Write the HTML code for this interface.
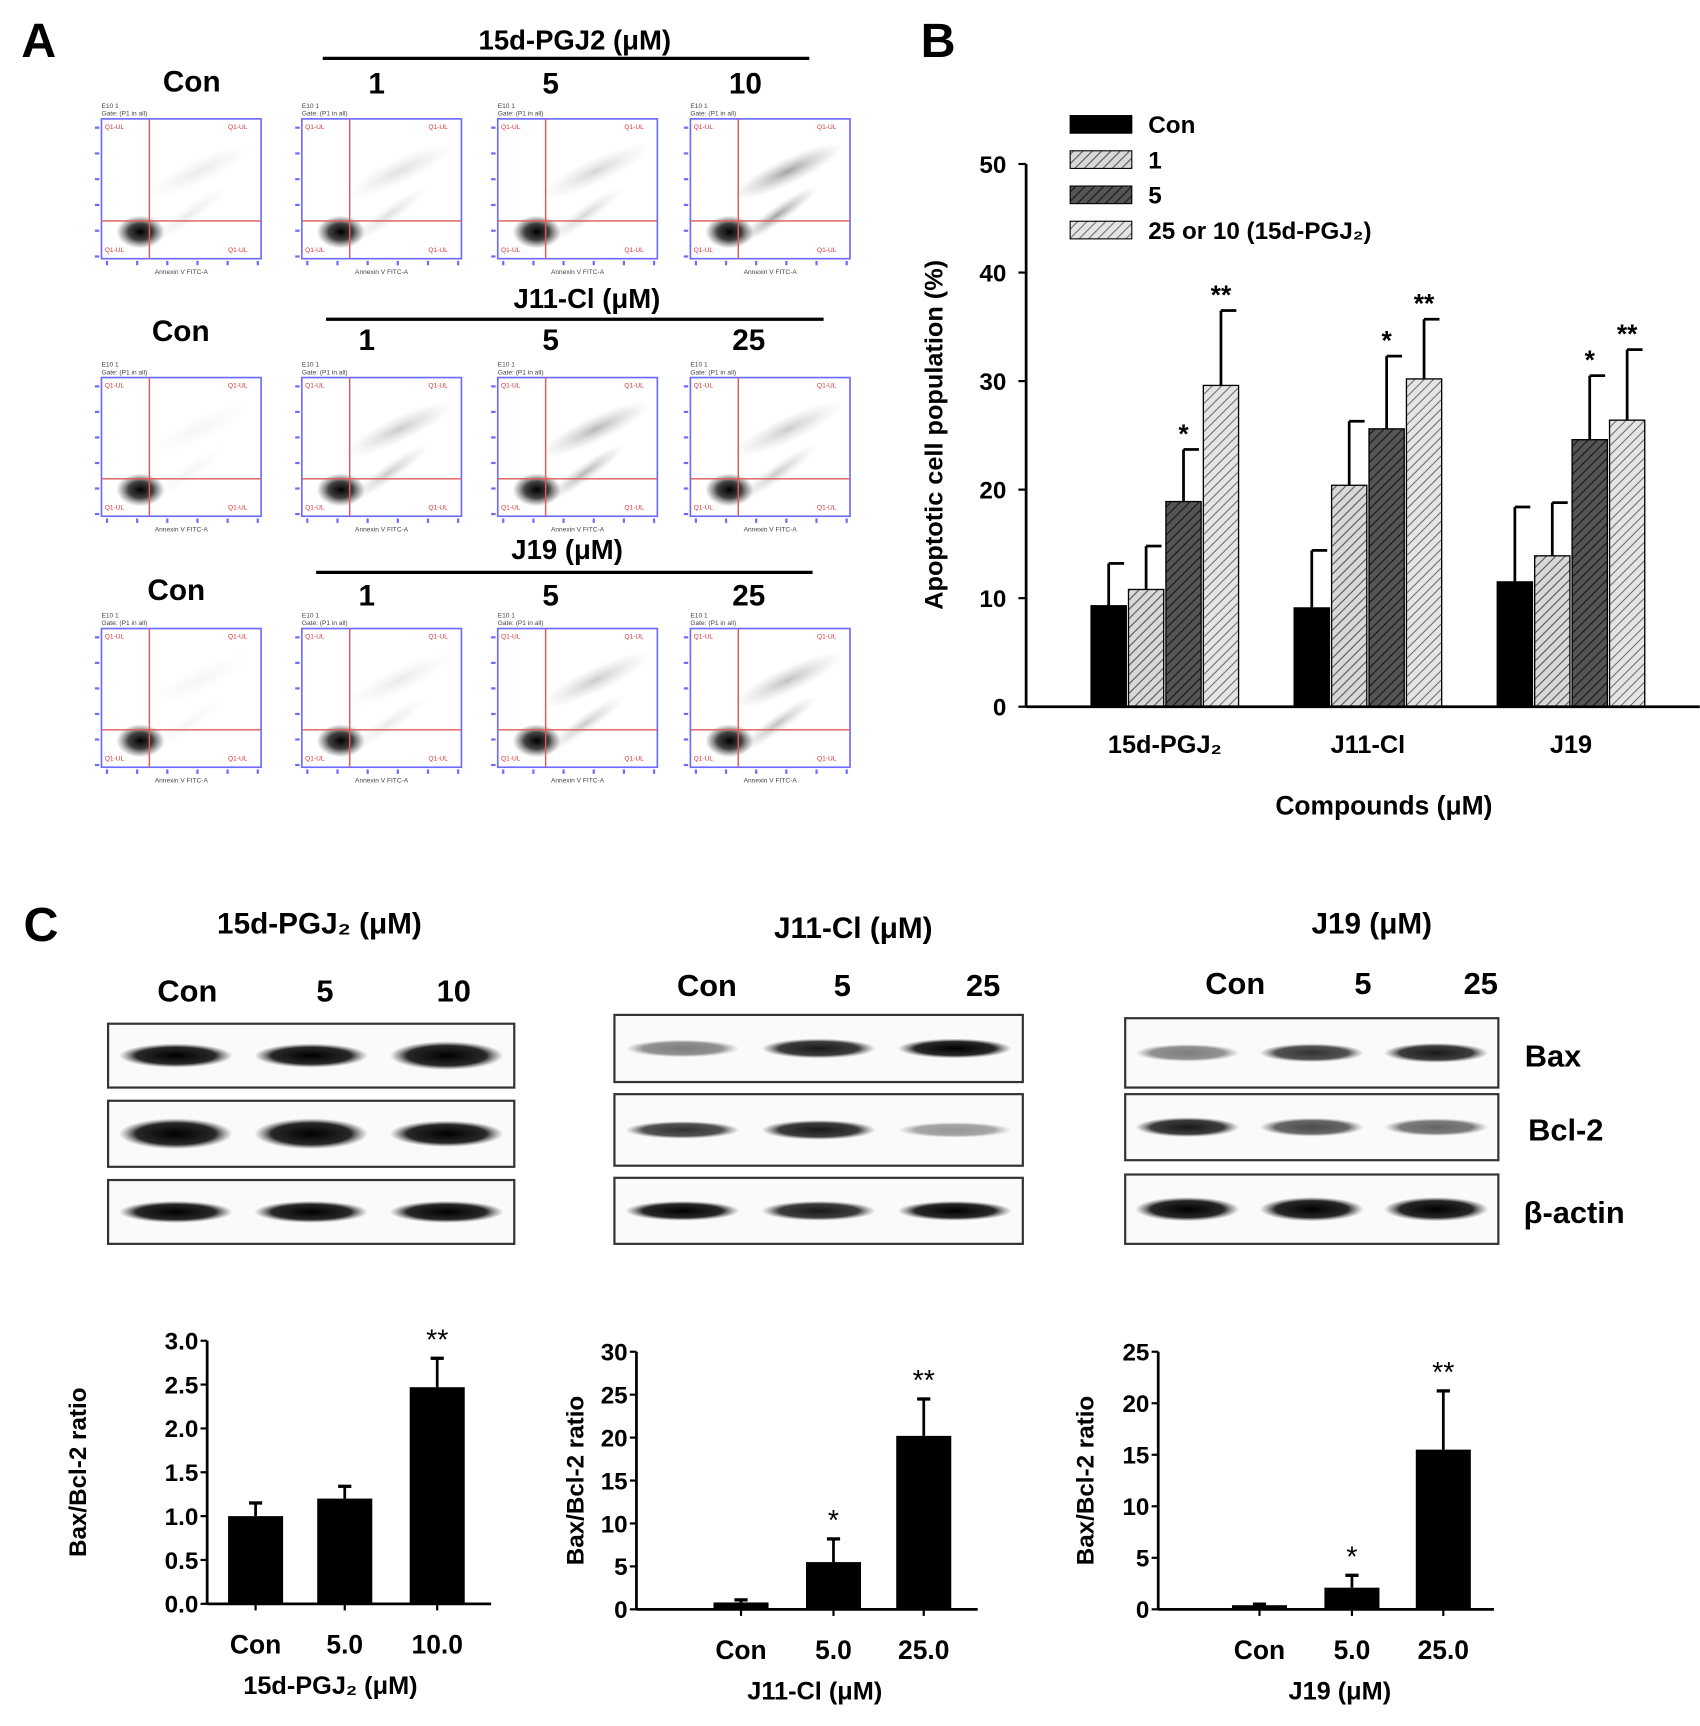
<!DOCTYPE html>
<html><head><meta charset="utf-8"><style>
html,body{margin:0;padding:0;background:#fff;}
svg{display:block;font-family:"Liberation Sans",Arial,sans-serif;font-weight:bold;}
</style></head><body>
<svg id="fig" width="1700" height="1726" viewBox="0 0 1544 1568" xmlns="http://www.w3.org/2000/svg">
<defs>
<pattern id="hatchL" patternUnits="userSpaceOnUse" width="6" height="6" patternTransform="rotate(45)"><rect width="6" height="6" fill="#d8d8d8"/><line x1="0" y1="0" x2="0" y2="6" stroke="#555" stroke-width="2"/></pattern>
<pattern id="hatchD" patternUnits="userSpaceOnUse" width="6" height="6" patternTransform="rotate(45)"><rect width="6" height="6" fill="#555"/><line x1="0" y1="0" x2="0" y2="6" stroke="#222" stroke-width="2.5"/></pattern>
<pattern id="hatchL2" patternUnits="userSpaceOnUse" width="6" height="6" patternTransform="rotate(45)"><rect width="6" height="6" fill="#e4e4e4"/><line x1="0" y1="0" x2="0" y2="6" stroke="#666" stroke-width="1.8"/></pattern>
<radialGradient id="blob"><stop offset="0" stop-color="#000" stop-opacity="1"/><stop offset="0.5" stop-color="#111" stop-opacity="0.8"/><stop offset="1" stop-color="#444" stop-opacity="0"/></radialGradient>
<radialGradient id="faint"><stop offset="0" stop-color="#555" stop-opacity="0.6"/><stop offset="1" stop-color="#999" stop-opacity="0"/></radialGradient>
<radialGradient id="band"><stop offset="0" stop-color="#000"/><stop offset="0.7" stop-color="#111" stop-opacity="0.9"/><stop offset="1" stop-color="#555" stop-opacity="0"/></radialGradient>
</defs>
<g id="panelA"></g>
<g id="panelB"></g>
<g id="panelC"></g>
</svg>
<script>
// ---- Panel B data ----
const bCategories = ["15d-PGJ\u2082", "J11-Cl", "J19"];
const bSeriesNames = ["Con", "1", "5", "25 or 10 (15d-PGJ\u2082)"];
const bCon = [9.3, 9.1, 11.5];
const bDose1 = [10.8, 20.4, 13.9];
const bDose5 = [18.9, 25.6, 24.6];
const bDoseHigh = [29.6, 30.2, 26.4];
const bErrCon = [3.9, 5.3, 6.9];
const bErr1 = [4.0, 5.9, 4.9];
const bErr5 = [4.8, 6.7, 5.9];
const bErrHigh = [6.9, 5.5, 6.5];
const bStars = [["", "", "*", "**"], ["", "", "*", "**"], ["", "", "*", "**"]];
const bTicks = [0, 10, 20, 30, 40, 50];

// ---- Panel C bar charts data ----
const cCategories = ["Con", "5.0", "10.0"];
const c1Values = [1.0, 1.2, 2.47];
const c1Err = [0.15, 0.14, 0.33];
const c1Ticks = ["0.0","0.5","1.0","1.5","2.0","2.5","3.0"];
const c1Stars = ["", "", "**"];
const c2Categories = ["Con", "5.0", "25.0"];
const c2Values = [0.8, 5.5, 20.2];
const c2Err = [0.3, 2.7, 4.3];
const c2Ticks = [0, 5, 10, 15, 20, 25, 30];
const c2Stars = ["", "*", "**"];
const c3Categories = ["Con", "5.0", "25.0"];
const c3Values = [0.4, 2.1, 15.5];
const c3Err = [0.1, 1.2, 5.7];
const c3Ticks = [0, 5, 10, 15, 20, 25];
const c3Stars = ["", "*", "**"];

const NS = "http://www.w3.org/2000/svg";
function mk(parent, tag, attrs, text) {
  const e = document.createElementNS(NS, tag);
  for (const k in attrs) e.setAttribute(k, attrs[k]);
  if (text !== undefined) e.textContent = text;
  parent.appendChild(e);
  return e;
}
function txt(parent, x, y, s, size, name, anchor, extra) {
  const t = mk(parent, "text", Object.assign({x: x, y: y, "font-size": size, "text-anchor": anchor || "middle"}, extra || {}), s);
  
  
  return t;
}

// ================= PANEL A =================
const A = document.getElementById("panelA");
txt(A, 35, 52, "A", 44, "panel-a-label");
const rowsA = [
  {title: "15d-PGJ2 (\u03bcM)", tx: 522, ty: 45, lx1: 293, lx2: 735, ly: 53, conX: 174, conY: 83, labs: ["1","5","10"], labX: [342,500,677], labY: 85, py: 108, ph: 127},
  {title: "J11-Cl (\u03bcM)", tx: 533, ty: 280, lx1: 296, lx2: 748, ly: 290, conX: 164, conY: 310, labs: ["1","5","25"], labX: [333,500,680], labY: 318, py: 343, ph: 126},
  {title: "J19 (\u03bcM)", tx: 515, ty: 508, lx1: 287, lx2: 738, ly: 520, conX: 160, conY: 545, labs: ["1","5","25"], labX: [333,500,680], labY: 550, py: 571, ph: 126}
];
const plotX = [92, 274, 452, 627];
const blobStrength = [[0.2,0.3,0.4,0.9],[0.1,0.5,0.7,0.5],[0.1,0.2,0.5,0.6]];
rowsA.forEach((r, ri) => {
  const g = mk(A, "g", {});
  
  
  txt(g, r.tx, r.ty, r.title, 25, "row-title");
  const ln = mk(g, "line", {x1: r.lx1, x2: r.lx2, y1: r.ly, y2: r.ly, stroke: "#000", "stroke-width": 3});
  
  
  txt(g, r.conX, r.conY, "Con", 27, "con-label");
  r.labs.forEach((l, i) => txt(g, r.labX[i], r.labY, l, 27, "dose-label"));
  plotX.forEach((px, pi) => {
    const w = 145, h = r.ph, py = r.py;
    const p = mk(g, "g", {});
    
    
    txt(p, px, py - 10, "E10 1", 6, "plot-id", "start", {"font-weight": "normal", fill: "#444"});
    txt(p, px, py - 3, "Gate: (P1 in all)", 6, "plot-gate", "start", {"font-weight": "normal", fill: "#444"});
    const cx = px + w * 0.3, cy = py + h * 0.73;
    const s = blobStrength[ri][pi];
    const tail = mk(p, "ellipse", {cx: cx + 45, cy: cy - 45, rx: 55, ry: 12, fill: "url(#faint)", opacity: s, transform: `rotate(-25 ${cx+45} ${cy-45})`});
    
    const tail2 = mk(p, "ellipse", {cx: cx + 35, cy: cy - 5, rx: 45, ry: 8, fill: "url(#faint)", opacity: s, transform: `rotate(-35 ${cx+35} ${cy-5})`});
    
    const b = mk(p, "ellipse", {cx: cx - 8, cy: cy + 10, rx: 22, ry: 15, fill: "url(#blob)"});
    
    
    const box = mk(p, "rect", {x: px, y: py, width: w, height: h, fill: "none", stroke: "#6b6bff", "stroke-width": 1.5});
    
    
    const v = mk(p, "line", {x1: cx, x2: cx, y1: py, y2: py + h, stroke: "#e05a5a", "stroke-width": 1.3});
    
    const hl = mk(p, "line", {x1: px, x2: px + w, y1: cy, y2: cy, stroke: "#e05a5a", "stroke-width": 1.3});
    
    [[px+3,py+9],[px+w-30,py+9],[px+3,py+h-6],[px+w-30,py+h-6]].forEach(q => txt(p, q[0], q[1], "Q1-UL", 6, "quadrant-value", "start", {fill: "#d33", "font-weight": "normal"}));
    for (let k = 0; k < 6; k++) {
      const tk = mk(p, "line", {x1: px - 6, x2: px - 2, y1: py + 8 + k * (h - 10) / 5, y2: py + 8 + k * (h - 10) / 5, stroke: "#6b6bff", "stroke-width": 2});
      
      const tx2 = mk(p, "line", {x1: px + 5 + k * (w - 8) / 5, x2: px + 5 + k * (w - 8) / 5, y1: py + h + 2, y2: py + h + 6, stroke: "#6b6bff", "stroke-width": 2});
      
    }
    txt(p, px + w / 2, py + h + 14, "Annexin V FITC-A", 6, "x-axis-label", "middle", {"font-weight": "normal", fill: "#444"});
  });
});

// ================= PANEL B =================
const B = document.getElementById("panelB");
txt(B, 852, 52, "B", 44, "panel-b-label");
const bx0 = 932, by0 = 642, byTop = 149, bxEnd = 1544;
const yB = v => by0 - (v / 50) * (by0 - byTop);
const groupCenters = bCategories.map((c, i) => 1058 + i * 184.5);
const barW = 32;
const series = [bCon, bDose1, bDose5, bDoseHigh];
const errs = [bErrCon, bErr1, bErr5, bErrHigh];
const fills = ["#000", "url(#hatchL)", "url(#hatchD)", "url(#hatchL2)"];
const sNames = ["bar-con", "bar-dose-1", "bar-dose-5", "bar-dose-high"];
bCategories.forEach((cat, gi) => {
  series.forEach((sv, si) => {
    const x = groupCenters[gi] + (si - 2) * (barW + 2) + 1;
    const top = yB(sv[gi]);
    const eTop = yB(sv[gi] + errs[si][gi]);
    const el = mk(B, "line", {x1: x + barW / 2, x2: x + barW / 2, y1: top, y2: eTop, stroke: "#000", "stroke-width": 2.5});
    
    
    const cap = mk(B, "line", {x1: x + barW / 2, x2: x + barW / 2 + 14, y1: eTop, y2: eTop, stroke: "#000", "stroke-width": 2.5});
    
    
    const r = mk(B, "rect", {x: x, y: top, width: barW, height: by0 - top, fill: fills[si], stroke: "#000", "stroke-width": 1.2});
    
    
    if (bStars[gi][si]) txt(B, x + barW / 2, eTop - 6, bStars[gi][si], 24, "significance-star");
  });
  txt(B, groupCenters[gi], 684, cat, 23, "x-tick-label");
});
const bAxisY = mk(B, "line", {x1: bx0, x2: bx0, y1: byTop, y2: by0, stroke: "#000", "stroke-width": 2.5});


const bAxisX = mk(B, "line", {x1: bx0, x2: bxEnd, y1: by0, y2: by0, stroke: "#000", "stroke-width": 2.5});


bTicks.forEach(t => {
  const tk = mk(B, "line", {x1: bx0 - 7, x2: bx0, y1: yB(t), y2: yB(t), stroke: "#000", "stroke-width": 2});
  
  
  txt(B, 914, yB(t) + 8, String(t), 22, "y-tick-label", "end");
});
txt(B, 0, 0, "Apoptotic cell population (%)", 23, "y-axis-title", "middle", {transform: "translate(856,395) rotate(-90)"});
txt(B, 1257, 740, "Compounds (\u03bcM)", 24, "x-axis-title");
bSeriesNames.forEach((n, i) => {
  const y = 105 + i * 32;
  const sw = mk(B, "rect", {x: 972, y: y, width: 56, height: 16, fill: fills[i], stroke: "#000", "stroke-width": 1});
  
  
  txt(B, 1043, y + 16, n, 22, "legend-entry", "start");
});

// ================= PANEL C =================
const C = document.getElementById("panelC");
txt(C, 37, 855, "C", 44, "panel-c-label");
const blots = [
  {title: "15d-PGJ\u2082 (\u03bcM)", tx: 290, ty: 848, labs: ["Con","5","10"], labX: [170,295,412], labY: 910, x: 98, w: 369, strips: [[930,58],[1000,60],[1072,58]],
    bands: [[[1,0.8],[1,0.8],[1,1]],[[1,1.1],[1,1.1],[1,0.9]],[[1,0.7],[1,0.7],[1,0.7]]]},
  {title: "J11-Cl (\u03bcM)", tx: 775, ty: 852, labs: ["Con","5","25"], labX: [642,765,893], labY: 905, x: 558, w: 371, strips: [[922,61],[994,65],[1070,60]],
    bands: [[[0.5,0.5],[0.9,0.6],[1,0.6]],[[0.8,0.5],[0.9,0.6],[0.4,0.4]],[[1,0.6],[0.9,0.6],[1,0.6]]]},
  {title: "J19 (\u03bcM)", tx: 1246, ty: 848, labs: ["Con","5","25"], labX: [1122,1238,1345], labY: 903, x: 1022, w: 339, strips: [[925,63],[994,60],[1067,63]],
    bands: [[[0.5,0.5],[0.8,0.55],[0.9,0.6]],[[0.9,0.6],[0.7,0.55],[0.6,0.5]],[[1,0.8],[1,0.8],[1,0.8]]]}
];
blots.forEach((bl, bi) => {
  const g = mk(C, "g", {});
  
  
  txt(g, bl.tx, bl.ty, bl.title, 27, "blot-title");
  bl.labs.forEach((l, i) => txt(g, bl.labX[i], bl.labY, l, 28, "lane-label"));
  bl.strips.forEach((st, si) => {
    const r = mk(g, "rect", {x: bl.x, y: st[0], width: bl.w, height: st[1], fill: "#fafafa", stroke: "#333", "stroke-width": 2});
    
    
    const laneW = bl.w / 3;
    bl.bands[si].forEach((bd, li) => {
      const e = mk(g, "ellipse", {cx: bl.x + laneW * (li + 0.5), cy: st[0] + st[1] / 2, rx: laneW * 0.42, ry: 10 * bd[1] + 3, fill: "url(#band)", opacity: bd[0]});
      
      
    });
  });
});
txt(C, 1385, 969, "Bax", 28, "bax-label", "start");
txt(C, 1388, 1036, "Bcl-2", 28, "bcl2-label", "start");
txt(C, 1384, 1111, "\u03b2-actin", 28, "actin-label", "start");

function barChart(cfg) {
  const g = mk(C, "g", {});
  
  
  const y = v => cfg.y0 - (v / cfg.max) * (cfg.y0 - cfg.yTop);
  cfg.values.forEach((v, i) => {
    const cx = cfg.centers[i];
    const top = y(v), eTop = y(v + cfg.err[i]);
    const el = mk(g, "line", {x1: cx, x2: cx, y1: top, y2: eTop, stroke: "#000", "stroke-width": 2.5});
    
    
    const cap = mk(g, "line", {x1: cx - 6, x2: cx + 6, y1: eTop, y2: eTop, stroke: "#000", "stroke-width": 3});
    
    
    const r = mk(g, "rect", {x: cx - 25, y: top, width: 50, height: cfg.y0 - top, fill: "#000"});
    
    
    if (cfg.stars[i]) txt(g, cx, eTop - 8, cfg.stars[i], 26, "significance-star", "middle", {"font-weight": "normal"});
    txt(g, cx, cfg.y0 + 45, cfg.cats[i], 24, "x-tick-label");
    const tk = mk(g, "line", {x1: cx, x2: cx, y1: cfg.y0, y2: cfg.y0 + 6, stroke: "#000", "stroke-width": 2});
    
  });
  const ay = mk(g, "line", {x1: cfg.ax, x2: cfg.ax, y1: cfg.yTop, y2: cfg.y0, stroke: "#000", "stroke-width": 2.5});
  
  
  const axx = mk(g, "line", {x1: cfg.ax, x2: cfg.ax + cfg.len, y1: cfg.y0, y2: cfg.y0, stroke: "#000", "stroke-width": 2.5});
  
  
  cfg.ticks.forEach(t => {
    const v = parseFloat(t);
    const tk = mk(g, "line", {x1: cfg.ax - 6, x2: cfg.ax, y1: y(v), y2: y(v), stroke: "#000", "stroke-width": 2});
    
    txt(g, cfg.ax - 8, y(v) + 8, String(t), 22, "y-tick-label", "end");
  });
  txt(g, 0, 0, "Bax/Bcl-2 ratio", 22, "y-axis-title", "middle", {transform: `translate(${cfg.titleX},${(cfg.y0 + cfg.yTop) / 2}) rotate(-90)`});
  txt(g, cfg.xTitleX, cfg.y0 + 82, cfg.xTitle, 23, "x-axis-title");
}
barChart({name: "ratio-chart-15d", cats: cCategories, values: c1Values, err: c1Err, stars: c1Stars, ticks: c1Ticks, max: 3, ax: 188, y0: 1457, yTop: 1218, len: 258, centers: [232, 313, 397], titleX: 78, xTitle: "15d-PGJ\u2082 (\u03bcM)", xTitleX: 300});
barChart({name: "ratio-chart-j11", cats: c2Categories, values: c2Values, err: c2Err, stars: c2Stars, ticks: c2Ticks, max: 30, ax: 578, y0: 1462, yTop: 1228, len: 310, centers: [673, 757, 839], titleX: 530, xTitle: "J11-Cl (\u03bcM)", xTitleX: 740});
barChart({name: "ratio-chart-j19", cats: c3Categories, values: c3Values, err: c3Err, stars: c3Stars, ticks: c3Ticks, max: 25, ax: 1052, y0: 1462, yTop: 1228, len: 305, centers: [1144, 1228, 1311], titleX: 993, xTitle: "J19 (\u03bcM)", xTitleX: 1217});
</script>
</body></html>
